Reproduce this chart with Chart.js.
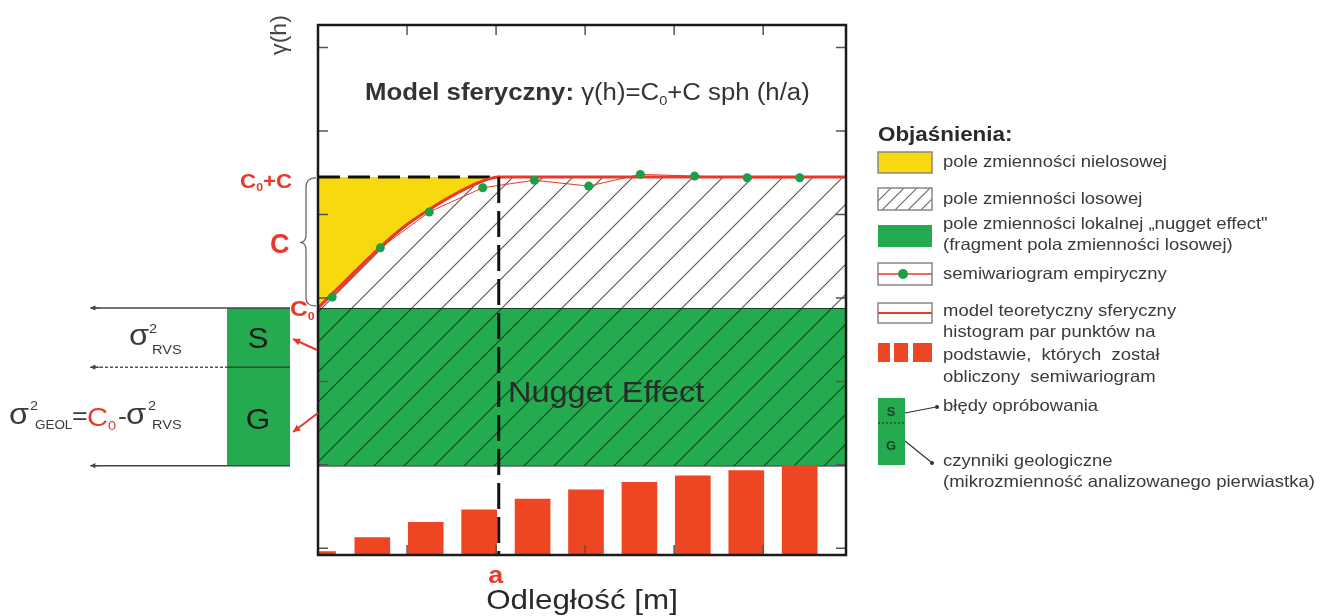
<!DOCTYPE html>
<html lang="pl">
<head>
<meta charset="utf-8">
<title>Model sferyczny - semiwariogram</title>
<script src="https://cdn.jsdelivr.net/npm/chart.js@4.4.0/dist/chart.umd.min.js"></script>
<style>
  html, body { margin: 0; padding: 0; background: #fff; }
  canvas { display: block; }
</style>
</head>
<body>
<canvas id="chart" width="1333" height="616"></canvas>
<script>
// semiwariogram empiryczny
const hEmp = [0.16, 0.70, 1.25, 1.85, 2.43, 3.04, 3.62, 4.23, 4.82, 5.41];
const gammaEmp = [3.09, 3.68, 4.11, 4.40, 4.49, 4.42, 4.56, 4.54, 4.52, 4.52];

// model teoretyczny sferyczny
const hModel = [0, 0.2, 0.4, 0.7, 1.0, 1.25, 1.5, 1.8, 2.03, 5.93];
const gammaModel = [2.96, 3.17, 3.38, 3.69, 3.96, 4.14, 4.30, 4.46, 4.53, 4.53];

// histogram par punktow
const hBins = [0.0, 0.61, 1.21, 1.81, 2.41, 3.01, 3.61, 4.21, 4.81, 5.41];
const nPairs = [0.04, 0.21, 0.39, 0.54, 0.67, 0.78, 0.87, 0.95, 1.01, 1.07];

// poziomy charakterystyczne
const C0 = 2.96;          // nugget
const SILL = 4.53;        // C0 + C
const NUGGET_BASE = 1.07; // dol pola "nugget effect"
const S_LEVEL = 2.25;     // granica S / G
const RANGE_A = 2.03;     // zasieg a
const H_MAX = 5.93;
const Y_MAX = 6.35;

const xTicks = [1, 2, 3, 4, 5];
const yTicks = [0.08, 1.08, 2.08, 3.08, 4.08, 5.08, 6.08];

const RED = '#e8392a';
const TXT = '#333';
const SX = 1.12; // tekst na oryginale jest lekko rozciagniety

function hatch(bg, fg, s) {
    const c = document.createElement('canvas');
    c.width = s; c.height = s;
    const g = c.getContext('2d');
    if (bg) { g.fillStyle = bg; g.fillRect(0, 0, s, s); }
    g.strokeStyle = fg;
    g.lineWidth = 1.1;
    g.beginPath();
    g.moveTo(0, s); g.lineTo(s, 0);
    g.moveTo(-2, 2); g.lineTo(2, -2);
    g.moveTo(s - 2, s + 2); g.lineTo(s + 2, s - 2);
    g.stroke();
    return g.createPattern(c, 'repeat');
}

function put(ctx, s, x, y, font, color, align, sx) {
    ctx.save();
    ctx.font = font;
    ctx.fillStyle = color;
    ctx.textAlign = align || 'left';
    ctx.textBaseline = 'alphabetic';
    ctx.translate(x, y);
    ctx.scale(sx || SX, 1);
    ctx.fillText(s, 0, 0);
    ctx.restore();
}

function runs(ctx, x, y, parts) {
    parts.forEach(p => {
        ctx.font = p.f;
        const w = ctx.measureText(p.t).width * SX;
        put(ctx, p.t, x, y + (p.dy || 0), p.f, p.c || TXT);
        x += w;
    });
    return x;
}

function line(ctx, x1, y1, x2, y2, color, w, dash) {
    ctx.save();
    ctx.strokeStyle = color;
    ctx.lineWidth = w;
    ctx.setLineDash(dash || []);
    ctx.beginPath();
    ctx.moveTo(x1, y1);
    ctx.lineTo(x2, y2);
    ctx.stroke();
    ctx.restore();
}

function arrow(ctx, x1, y1, x2, y2, color, w, size) {
    line(ctx, x1, y1, x2, y2, color, w);
    const ang = Math.atan2(y2 - y1, x2 - x1);
    ctx.save();
    ctx.fillStyle = color;
    ctx.beginPath();
    ctx.moveTo(x2, y2);
    ctx.lineTo(x2 - size * Math.cos(ang - 0.45), y2 - size * Math.sin(ang - 0.45));
    ctx.lineTo(x2 - size * Math.cos(ang + 0.45), y2 - size * Math.sin(ang + 0.45));
    ctx.closePath();
    ctx.fill();
    ctx.restore();
}

function dot(ctx, x, y, r, color) {
    ctx.save();
    ctx.fillStyle = color;
    ctx.beginPath();
    ctx.arc(x, y, r, 0, Math.PI * 2);
    ctx.fill();
    ctx.restore();
}

const pts = (xs, ys) => xs.map((x, i) => ({ x: x, y: ys[i] }));
const flat = (y, x0, x1) => [{ x: x0, y: y }, { x: x1, y: y }];

const hatchWhite = hatch('#ffffff', '#555555', 30);
const hatchGreen = hatch('#25ab4f', '#1c3f25', 30);
const hatchSmall = hatch('#ffffff', '#666666', 13);
const yellowPts = pts(hModel, gammaModel).filter(p => p.x <= RANGE_A);

const sketch = {
    id: 'sketch',
    afterDatasetsDraw(chart) {
        const { ctx, chartArea: a, scales: { x, y } } = chart;
        // ramka i znaczniki do wewnatrz
        ctx.save();
        ctx.strokeStyle = '#555';
        ctx.lineWidth = 1.5;
        ctx.beginPath();
        xTicks.forEach(v => {
            const px = x.getPixelForValue(v);
            ctx.moveTo(px, a.top); ctx.lineTo(px, a.top + 10);
            ctx.moveTo(px, a.bottom); ctx.lineTo(px, a.bottom - 10);
        });
        yTicks.forEach(v => {
            const py = y.getPixelForValue(v);
            ctx.moveTo(a.left, py); ctx.lineTo(a.left + 10, py);
            ctx.moveTo(a.right, py); ctx.lineTo(a.right - 10, py);
        });
        ctx.stroke();
        ctx.strokeStyle = '#1a1a1a';
        ctx.lineWidth = 2.5;
        ctx.strokeRect(a.left, a.top, a.right - a.left, a.bottom - a.top);
        ctx.restore();
    },
    afterDraw(chart) {
        const { ctx, scales: { x, y } } = chart;
        const yC0 = y.getPixelForValue(C0);
        const ySill = y.getPixelForValue(SILL);
        const yBase = y.getPixelForValue(NUGGET_BASE);
        const yS = y.getPixelForValue(S_LEVEL);
        const xA = x.getPixelForValue(RANGE_A);

        // tytul
        runs(ctx, 365, 100, [
            { t: 'Model sferyczny:', f: 'bold 23px "Liberation Sans", Arial' },
            { t: ' \u03b3(h)=C', f: '23px "Liberation Sans", Arial' },
            { t: '0', f: '13px "Liberation Sans", Arial', dy: 5 },
            { t: '+C sph (h/a)', f: '23px "Liberation Sans", Arial' }
        ]);

        put(ctx, 'Nugget Effect', 508, 402, '29px "Liberation Sans", Arial', '#2a2a2a');

        // os y
        ctx.save();
        ctx.translate(286, 35);
        ctx.rotate(-Math.PI / 2);
        put(ctx, '\u03b3(h)', 0, 0, '22px "Liberation Sans", Arial', '#444', 'center', 1.05);
        ctx.restore();

        // os x
        put(ctx, 'a', xA - 3, 583, 'bold 24px "Liberation Sans", Arial', RED, 'center');
        put(ctx, 'Odleg\u0142o\u015b\u0107 [m]', 582, 609, '28px "Liberation Sans", Arial', '#2a2a2a', 'center');

        // etykiety C
        runs(ctx, 240, 188, [
            { t: 'C', f: 'bold 20px "Liberation Sans", Arial', c: RED },
            { t: '0', f: 'bold 11px "Liberation Sans", Arial', c: RED, dy: 3 },
            { t: '+C', f: 'bold 20px "Liberation Sans", Arial', c: RED }
        ]);
        put(ctx, 'C', 270, 253, 'bold 27px "Liberation Sans", Arial', RED, 'left', 1.0);
        runs(ctx, 290, 316, [
            { t: 'C', f: 'bold 22px "Liberation Sans", Arial', c: RED },
            { t: '0', f: 'bold 11px "Liberation Sans", Arial', c: RED, dy: 4 }
        ]);

        // klamra C
        const yMid = (ySill + yC0) / 2;
        ctx.save();
        ctx.strokeStyle = '#666';
        ctx.lineWidth = 1.3;
        ctx.beginPath();
        ctx.moveTo(316, ySill + 1);
        ctx.quadraticCurveTo(306, ySill + 1, 306, ySill + 10);
        ctx.lineTo(306, yMid - 8);
        ctx.quadraticCurveTo(306, yMid, 300, yMid);
        ctx.quadraticCurveTo(306, yMid, 306, yMid + 8);
        ctx.lineTo(306, yC0 - 10);
        ctx.quadraticCurveTo(306, yC0 - 2, 316, yC0 - 2);
        ctx.stroke();
        ctx.restore();

        // lewy schemat S / G
        ctx.fillStyle = '#25ab4f';
        ctx.fillRect(227, yC0, 63, yBase - yC0);
        line(ctx, 95, yC0, 290, yC0, '#444', 1.5);
        line(ctx, 95, yBase, 290, yBase, '#444', 1.5);
        line(ctx, 95, yS, 227, yS, '#555', 1.5, [3, 2]);
        line(ctx, 227, yS, 290, yS, '#1f3f26', 1.2);
        [yC0, yS, yBase].forEach(py => arrow(ctx, 100, py, 90, py, '#444', 1, 6));
        put(ctx, 'S', 258, 348, '30px "Liberation Sans", Arial', '#1a1a1a', 'center', 1.05);
        put(ctx, 'G', 258, 429, '30px "Liberation Sans", Arial', '#1a1a1a', 'center', 1.05);
        arrow(ctx, 317, 350, 293, 339, RED, 2, 8);
        arrow(ctx, 318, 413, 293, 432, RED, 2, 8);

        const sig = '29px "Liberation Sans", Arial';
        const sub = '13px "Liberation Sans", Arial';
        const LG = '#3a3a3a';
        put(ctx, '\u03c3', 129, 345, sig, LG);
        put(ctx, '2', 149, 333, sub, LG);
        put(ctx, 'RVS', 152, 354, sub, LG);

        put(ctx, '\u03c3', 9, 424, sig, LG);
        put(ctx, '2', 30, 410, sub, LG);
        put(ctx, 'GEOL', 35, 429, '12px "Liberation Sans", Arial', LG);
        put(ctx, '=', 72, 424, '24px "Liberation Sans", Arial', LG);
        put(ctx, 'C', 87, 426, '26px "Liberation Sans", Arial', RED);
        put(ctx, '0', 108, 430, sub, RED);
        put(ctx, '-', 118, 424, '24px "Liberation Sans", Arial', LG);
        put(ctx, '\u03c3', 126, 424, sig, LG);
        put(ctx, '2', 148, 410, sub, LG);
        put(ctx, 'RVS', 152, 429, sub, LG);

        // legenda
        const LF = '16.5px "Liberation Sans", Arial';
        const LC = '#3a3a3a';
        const bx = 878, bw = 54, tx = 943;
        put(ctx, 'Obja\u015bnienia:', bx, 141, 'bold 20px "Liberation Sans", Arial', '#2a2a2a');

        ctx.fillStyle = '#f8d80e';
        ctx.fillRect(bx, 152, bw, 21);
        ctx.strokeStyle = '#888'; ctx.lineWidth = 1.5;
        ctx.strokeRect(bx, 152, bw, 21);
        put(ctx, 'pole zmienno\u015bci nielosowej', tx, 167, LF, LC);

        ctx.fillStyle = hatchSmall;
        ctx.fillRect(bx, 188, bw, 22);
        ctx.strokeStyle = '#888'; ctx.lineWidth = 1.5;
        ctx.strokeRect(bx, 188, bw, 22);
        put(ctx, 'pole zmienno\u015bci losowej', tx, 204, LF, LC);

        ctx.fillStyle = '#25ab4f';
        ctx.fillRect(bx, 225, bw, 22);
        put(ctx, 'pole zmienno\u015bci lokalnej \u201enugget effect"', tx, 229, LF, LC);
        put(ctx, '(fragment pola zmienno\u015bci losowej)', tx, 250, LF, LC);

        ctx.strokeStyle = '#888'; ctx.lineWidth = 1.5;
        ctx.strokeRect(bx, 263, bw, 22);
        line(ctx, bx, 274, bx + bw, 274, RED, 1.5);
        dot(ctx, 903, 274, 5, '#1f9e4a');
        put(ctx, 'semiwariogram empiryczny', tx, 279, LF, LC);

        ctx.strokeStyle = '#888'; ctx.lineWidth = 1.5;
        ctx.strokeRect(bx, 303, bw, 20);
        line(ctx, bx, 313, bx + bw, 313, RED, 2);
        put(ctx, 'model teoretyczny sferyczny', tx, 316, LF, LC);

        ctx.fillStyle = '#ee4523';
        ctx.fillRect(878, 343, 12, 19);
        ctx.fillRect(894, 343, 14, 19);
        ctx.fillRect(913, 343, 19, 19);
        put(ctx, 'histogram par punkt\u00f3w na', tx, 337, LF, LC);
        put(ctx, 'podstawie,  kt\u00f3rych  zosta\u0142', tx, 360, LF, LC);
        put(ctx, 'obliczony  semiwariogram', tx, 382, LF, LC);

        ctx.fillStyle = '#25ab4f';
        ctx.fillRect(bx, 398, 27, 67);
        line(ctx, bx, 423, bx + 27, 423, '#1f3f26', 1.2, [2, 2]);
        put(ctx, 'S', 891, 416, 'bold 13px "Liberation Sans", Arial', '#1f3f26', 'center', 1);
        put(ctx, 'G', 891, 450, 'bold 13px "Liberation Sans", Arial', '#1f3f26', 'center', 1);
        line(ctx, 905, 413, 936, 407, '#333', 1.2);
        dot(ctx, 937, 407, 2, '#333');
        line(ctx, 905, 441, 931, 462, '#333', 1.2);
        dot(ctx, 932, 463, 2, '#333');
        put(ctx, 'b\u0142\u0119dy opr\u00f3bowania', tx, 411, LF, LC);
        put(ctx, 'czynniki geologiczne', tx, 466, LF, LC);
        put(ctx, '(mikrozmienno\u015b\u0107 analizowanego pierwiastka)', tx, 487, LF, LC);
    }
};

const none = 'rgba(0,0,0,0)';

new Chart(document.getElementById('chart'), {
    type: 'line',
    data: {
        datasets: [
            { // zasieg a
                data: [{ x: RANGE_A, y: SILL }, { x: RANGE_A, y: 0 }],
                borderColor: '#111', borderWidth: 3, borderDash: [26, 8],
                pointRadius: 0, fill: false
            },
            { // semiwariogram empiryczny
                data: pts(hEmp, gammaEmp),
                borderColor: RED, borderWidth: 1,
                pointRadius: 4.5, pointBackgroundColor: '#1f9e4a', pointBorderWidth: 0,
                fill: false
            },
            { // model sferyczny
                data: pts(hModel, gammaModel),
                borderColor: RED, borderWidth: 3,
                cubicInterpolationMode: 'monotone',
                pointRadius: 0, fill: false
            },
            { // C0 + C do zasiegu
                data: flat(SILL, 0, RANGE_A),
                borderColor: '#111', borderWidth: 3, borderDash: [22, 8],
                pointRadius: 0, fill: false
            },
            { // histogram par punktow
                type: 'bar',
                data: pts(hBins, nPairs),
                backgroundColor: '#ee4523',
                barThickness: 35
            },
            { // pole zmiennosci nielosowej
                data: yellowPts,
                cubicInterpolationMode: 'monotone',
                borderColor: none, borderWidth: 0, pointRadius: 0,
                backgroundColor: '#f8d80e',
                fill: { value: SILL }
            },
            { // pole zmiennosci losowej
                data: flat(SILL, 0, H_MAX),
                borderColor: none, borderWidth: 0, pointRadius: 0,
                backgroundColor: hatchWhite,
                fill: { value: C0 }
            },
            { // nugget effect
                data: flat(C0, 0, H_MAX),
                borderColor: '#1b1b1b', borderWidth: 1.5, pointRadius: 0,
                backgroundColor: hatchGreen,
                fill: { value: NUGGET_BASE }
            },
            {
                data: flat(NUGGET_BASE, 0, H_MAX),
                borderColor: '#1b1b1b', borderWidth: 1.5, pointRadius: 0,
                fill: false
            }
        ]
    },
    options: {
        responsive: false,
        animation: false,
        events: [],
        layout: { padding: { left: 318, right: 487, top: 25, bottom: 61 } },
        scales: {
            x: { type: 'linear', offset: false, min: 0, max: H_MAX, display: false, ticks: { stepSize: 1 } },
            y: { type: 'linear', min: 0, max: Y_MAX, display: false }
        },
        plugins: {
            legend: { display: false },
            tooltip: { enabled: false }
        }
    },
    plugins: [sketch]
});
</script>
</body>
</html>
